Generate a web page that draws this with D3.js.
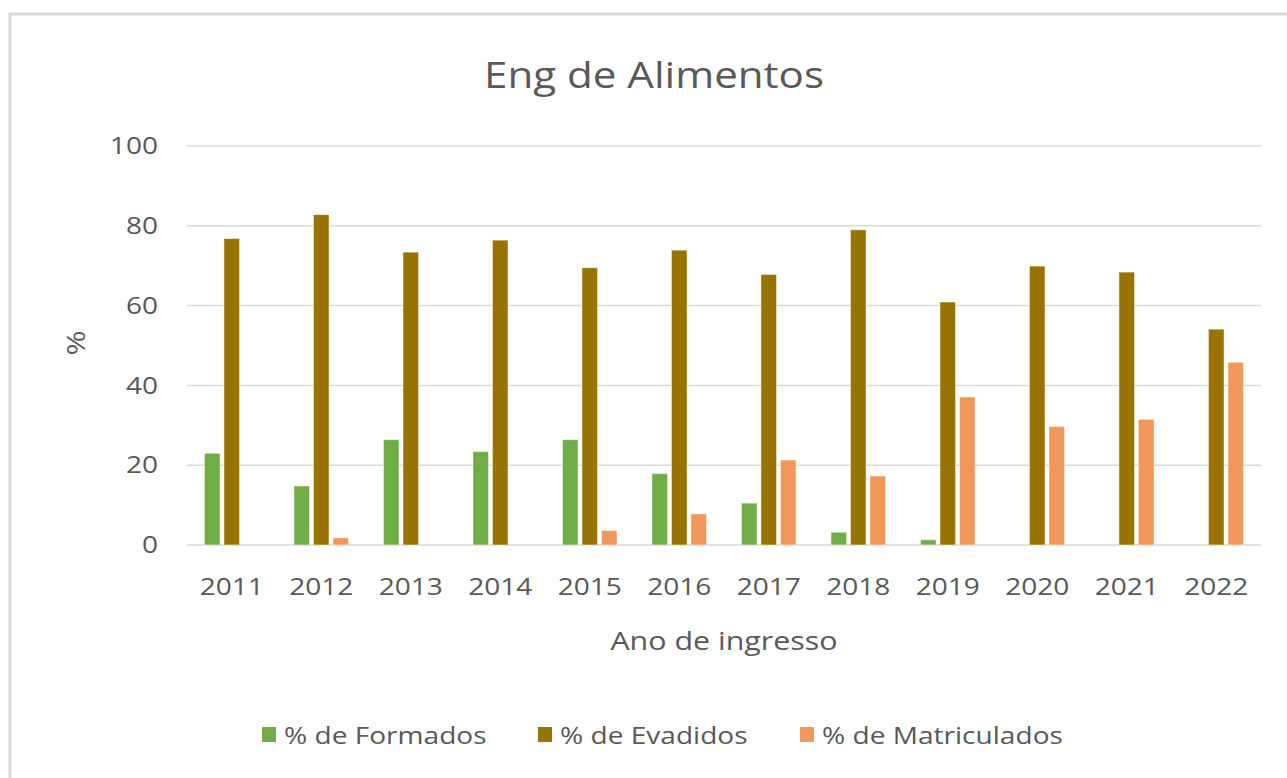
<!DOCTYPE html>
<html>
<head>
<meta charset="utf-8">
<script src="https://cdn.jsdelivr.net/npm/d3@7"></script>
<style>
  body { margin: 0; background: #fff; }
  text { font-family: "Open Sans", sans-serif; fill: #595959; }
</style>
</head>
<body>
<svg id="chart" width="1287" height="778"></svg>
<script>
let years = ["2011", "2012", "2013", "2014", "2015", "2016", "2017", "2018", "2019", "2020", "2021", "2022"];
let formados = [23, 14.8, 26.4, 23.4, 26.4, 17.9, 10.5, 3.2, 1.3, 0, 0, 0];
let evadidos = [76.8, 82.8, 73.4, 76.4, 69.5, 73.9, 67.8, 79, 60.9, 69.9, 68.4, 54.1];
let matriculados = [0, 1.8, 0, 0, 3.6, 7.8, 21.3, 17.3, 37.1, 29.7, 31.5, 45.8];
let yTicks = [0, 20, 40, 60, 80, 100];

let seriesNames = ["% de Formados", "% de Evadidos", "% de Matriculados"];
let colors = ["#70AD47", "#997300", "#F1975A"];

// the reference font is wider than Open Sans, stretch text a bit
let sx = 1.17;

let svg = d3.select("#chart");

// chart frame
svg.append("rect")
  .attr("x", 10).attr("y", 14)
  .attr("width", 1300).attr("height", 800)
  .attr("fill", "#fff")
  .attr("stroke", "#d9d9d9")
  .attr("stroke-width", 3);

let plotLeft = 187, plotRight = 1261, plotTop = 146, plotBottom = 545;

let yScale = d3.scaleLinear()
  .domain([0, 100])
  .range([plotBottom, plotTop]);

let x0 = d3.scaleBand()
  .domain(years)
  .range([plotLeft, plotRight])
  .paddingInner(0.39)
  .paddingOuter(0.195);

let x1 = d3.scaleBand()
  .domain([0, 1, 2])
  .range([0, x0.bandwidth()])
  .paddingInner(0.2);

// gridlines
svg.append("g")
  .selectAll("line")
  .data(yTicks)
  .enter()
  .append("line")
  .attr("x1", plotLeft).attr("x2", plotRight)
  .attr("y1", d => yScale(d)).attr("y2", d => yScale(d))
  .attr("stroke", "#d9d9d9")
  .attr("stroke-width", 1.5);

// y axis labels
let yAxis = d3.axisLeft(yScale).tickValues(yTicks).tickSize(0).tickPadding(29);
let yg = svg.append("g")
  .attr("transform", `translate(${plotLeft}, 0)`)
  .call(yAxis);
yg.select(".domain").remove();
yg.selectAll("text")
  .style("font-size", "24px")
  .style("font-family", "'Open Sans', sans-serif")
  .attr("fill", "#595959")
  .attr("x", -29 / sx)
  .attr("transform", `scale(${sx},1)`);

// bars
let data = years.map((y, i) => ({ year: y, values: [formados[i], evadidos[i], matriculados[i]] }));

let groups = svg.append("g")
  .selectAll("g")
  .data(data)
  .enter()
  .append("g")
  .attr("transform", d => `translate(${x0(d.year)}, 0)`);

groups.selectAll("rect")
  .data(d => d.values.map((v, k) => ({ k: k, v: v })).filter(e => e.v > 0))
  .enter()
  .append("rect")
  .attr("x", d => x1(d.k))
  .attr("width", x1.bandwidth())
  .attr("y", d => yScale(d.v))
  .attr("height", d => plotBottom - yScale(d.v))
  .attr("fill", d => colors[d.k])
  .attr("stroke", "#fff")
  .attr("stroke-opacity", 0.5)
  .attr("stroke-width", 1);

// x axis labels
let xAxis = d3.axisBottom(x0).tickSize(0).tickPadding(33);
let xg = svg.append("g")
  .attr("transform", `translate(0, ${plotBottom})`)
  .call(xAxis);
xg.select(".domain").remove();
xg.selectAll("text")
  .style("font-size", "24px")
  .style("font-family", "'Open Sans', sans-serif")
  .attr("fill", "#595959")
  .attr("transform", `scale(${sx},1)`);

// title
svg.append("text")
  .attr("transform", `translate(654, 88) scale(${sx},1)`)
  .style("text-anchor", "middle")
  .style("font-size", "36px")
  .text("Eng de Alimentos");

// axis titles
svg.append("text")
  .attr("transform", `translate(724, 650) scale(${sx},1)`)
  .style("text-anchor", "middle")
  .style("font-size", "26px")
  .text("Ano de ingresso");

svg.append("text")
  .attr("transform", `translate(85, 343) rotate(-90) scale(${sx},1)`)
  .style("text-anchor", "middle")
  .style("font-size", "26px")
  .text("%");

// legend
let legendX = [262, 538, 800];
let legend = svg.append("g")
  .selectAll("g")
  .data(seriesNames)
  .enter()
  .append("g")
  .attr("transform", (d, i) => `translate(${legendX[i]}, 727)`);

legend.append("rect")
  .attr("width", 14).attr("height", 15)
  .attr("fill", (d, i) => colors[i]);

legend.append("text")
  .attr("transform", `translate(22, 17) scale(${sx},1)`)
  .style("font-size", "24px")
  .text(d => d);
</script>
</body>
</html>
